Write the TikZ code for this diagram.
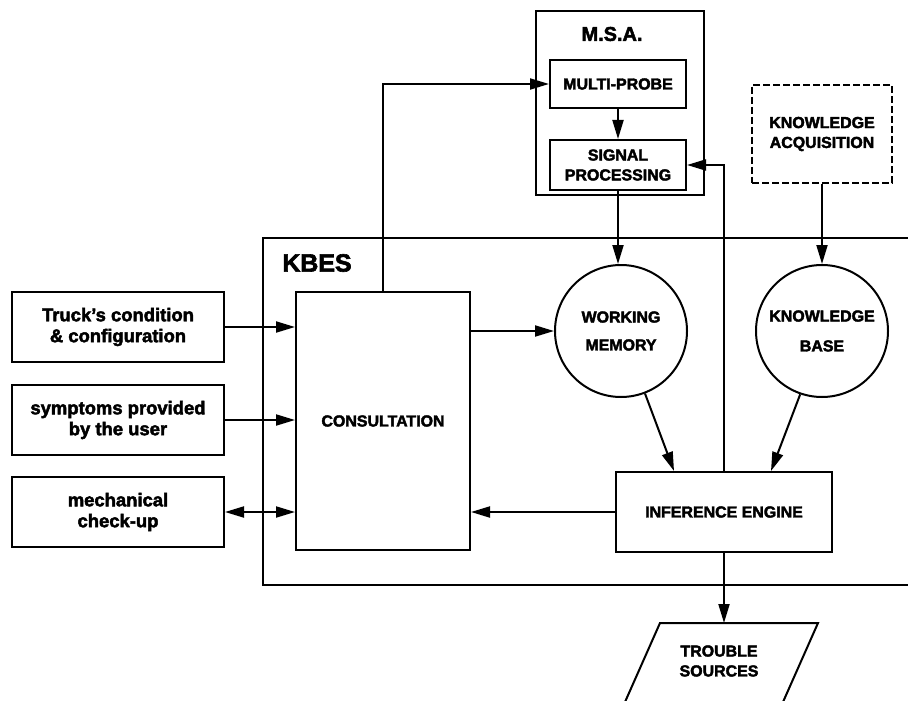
\documentclass[tikz,border=0pt]{standalone}
\usepackage{fontspec}
\setmainfont{Liberation Sans}[BoldFeatures={FakeBold=2.5}]
\usetikzlibrary{arrows.meta,calc}
\begin{document}
\begin{tikzpicture}[x=1bp,y=-1bp,
  line width=2bp,
  box/.style={draw, rectangle, inner sep=0pt, align=center},
  caps/.style={font=\bfseries\fontsize{16}{20}\selectfont, align=center},
  lower/.style={font=\bfseries\fontsize{18.5}{21}\selectfont, align=center},
  tip/.tip={Triangle[length=19bp,width=11bp]},
  arr/.style={-tip},
  circ/.style={draw, circle, minimum size=132bp, inner sep=0pt, align=center}
]
\useasboundingbox (0,0) rectangle (908,701);

% M.S.A. unit
\node[box, minimum width=168bp, minimum height=184bp] (msa) at (620,103) {};
\node[font=\bfseries\fontsize{20}{24}\selectfont] (msalbl) at (612,34) {M.S.A.};
\node[box, caps, minimum width=136bp, minimum height=48bp] (mp) at (618,84) {MULTI-PROBE};
\node[box, caps, minimum width=136bp, minimum height=50bp] (sp) at (618,165) {SIGNAL\\PROCESSING};

% knowledge acquisition (external, dashed)
\node[box, caps, dash pattern=on 7bp off 3bp, minimum width=140bp, minimum height=98bp] (ka) at (822,134) {KNOWLEDGE\\ACQUISITION};

% KBES frame, open to the right
\draw (915,238) -- (263,238) -- (263,585) -- (915,585);
\node[font=\bfseries\fontsize{25}{30}\selectfont] (kbes) at (317,263) {KBES};

\node[box, caps, minimum width=174bp, minimum height=258bp] (cons) at (383,421) {CONSULTATION};
\node[circ, caps] (wm) at (621,331) {WORKING\\[8bp]MEMORY};
\node[circ, caps] (kb) at (822,331) {KNOWLEDGE\\[10bp]BASE};
\node[box, caps, minimum width=216bp, minimum height=80bp] (ie) at (724,512) {INFERENCE ENGINE};

% inputs
\node[box, lower, minimum width=212bp, minimum height=70bp] (truck) at (118,327) {Truck's condition\\\& configuration};
\node[box, lower, minimum width=212bp, minimum height=70bp] (symp) at (118,420) {symptoms provided\\by the user};
\node[box, lower, minimum width=212bp, minimum height=70bp] (mech) at (118,512) {mechanical\\check-up};

% output
\draw (660,623) -- (818,623) -- (783,702) -- (625,702) -- cycle;
\coordinate (tstop) at (724,623);
\node[caps, align=center] (ts) at (719,661) {TROUBLE\\SOURCES};

% connectors
\draw[arr] (truck.east) -- (truck.east -| cons.west);
\draw[arr] (symp.east) -- (symp.east -| cons.west);
\draw[tip-tip] (mech.east) -- (mech.east -| cons.west);
\draw[arr] (cons.east |- wm.west) -- (wm.west);
\draw[arr] (cons.north) -- (cons.north |- mp.west) -- (mp.west);
\draw[arr] (mp.south) -- (sp.north);
\draw[arr] (sp.south) -- (sp.south |- wm.north);
\draw[arr] (ie.north) -- (ie.north |- sp.east) -- (sp.east);
\draw[arr] (ka.south) -- (kb.north);
\draw[arr] (wm.-69) -- ($(ie.north west)+(59,0)$);
\draw[arr] (kb.-109) -- ($(ie.north west)+(156,0)$);
\draw[arr] (ie.west) -- (ie.west -| cons.east);
\draw[arr] (ie.south) -- (ie.south |- tstop);
\end{tikzpicture}
\end{document}
